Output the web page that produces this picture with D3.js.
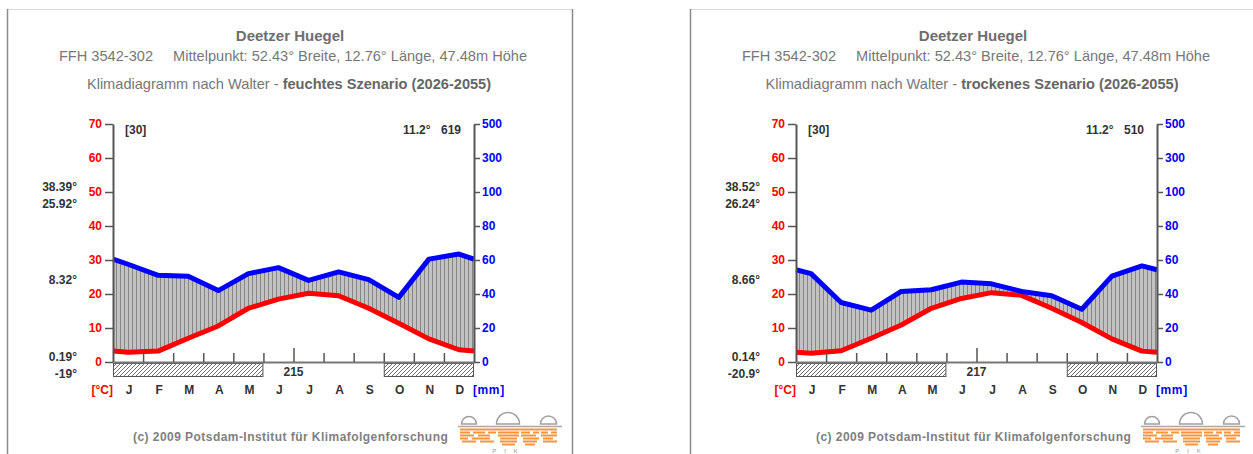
<!DOCTYPE html>
<html>
<head>
<meta charset="utf-8">
<script src="https://cdn.jsdelivr.net/npm/d3@7"></script>
<style>
  body { margin: 0; background: #fff; }
  svg { display: block; font-family: "Liberation Sans", Arial, sans-serif; }
</style>
</head>
<body>
<svg id="chart" width="1253" height="454"></svg>
<script>
// ---- data ----
const months = ["J", "F", "M", "A", "M", "J", "J", "A", "S", "O", "N", "D"];
const tempTicks = [0, 10, 20, 30, 40, 50, 60, 70];
const precTicks = [0, 20, 40, 60, 80, 100, 300, 500];

// feuchtes Szenario (2026-2055)
const tempWet = [2.9, 3.2, 7.0, 10.6, 15.8, 18.5, 20.2, 19.5, 15.8, 11.4, 6.8, 3.6];
const precWet = [57.5, 51.0, 50.5, 42.0, 52.0, 55.5, 48.0, 53.0, 48.5, 38.0, 60.5, 63.5];
const frostWet = [[0, 5], [9, 12]];
const sideWet = ["38.39°", "25.92°", "8.32°", "0.19°", "-19°"];
const statsWet = ["[30]", "11.2°", "619", "215"];

// trockenes Szenario (2026-2055)
const tempDry = [2.6, 3.3, 7.0, 10.9, 15.8, 18.7, 20.4, 19.6, 15.8, 11.6, 6.8, 3.2];
const precDry = [52.0, 35.0, 30.5, 41.5, 42.5, 47.0, 46.0, 41.5, 39.0, 31.0, 50.5, 56.5];
const frostDry = [[0, 5], [9, 12]];
const sideDry = ["38.52°", "26.24°", "8.66°", "0.14°", "-20.9°"];
const statsDry = ["[30]", "11.2°", "510", "217"];

const siteName = "Deetzer Huegel";
const siteInfo = ["FFH 3542-302", "Mittelpunkt: 52.43° Breite, 12.76° Länge, 47.48m Höhe"];
const scenarios = ["feuchtes Szenario (2026-2055)", "trockenes Szenario (2026-2055)"];

const panels = [
  { dx: 0,   scenario: scenarios[0], temp: tempWet, prec: precWet, frost: frostWet, side: sideWet, stats: statsWet },
  { dx: 683, scenario: scenarios[1], temp: tempDry, prec: precDry, frost: frostDry, side: sideDry, stats: statsDry }
];

// ---- drawing ----
const svg = d3.select("#chart");
svg.append("rect").attr("width", 1253).attr("height", 454).attr("fill", "#fff");

const defs = svg.append("defs");
// humid period: grey with vertical rules
const humid = defs.append("pattern").attr("id", "humid")
  .attr("patternUnits", "userSpaceOnUse").attr("width", 4).attr("height", 8);
humid.append("rect").attr("width", 4).attr("height", 8).attr("fill", "#c2c2c2");
humid.append("rect").attr("width", 1).attr("height", 8).attr("fill", "#858585");
// frost months: diagonal hatching
const hatch = defs.append("pattern").attr("id", "frost")
  .attr("patternUnits", "userSpaceOnUse").attr("width", 4).attr("height", 4);
hatch.append("rect").attr("width", 4).attr("height", 4).attr("fill", "#fff");
hatch.append("path").attr("d", "M-1,1 L1,-1 M0,4 L4,0 M3,5 L5,3")
  .attr("stroke", "#6e6e6e").attr("stroke-width", 1);

const x = d3.scaleLinear().domain([0, 12]).range([113, 474]);
const yT = d3.scaleLinear().domain([0, 70]).range([362, 124]);
const yP = d3.scaleLinear().domain([0, 100, 300, 500])
  .range([yT(0), yT(50), yT(60), yT(70)]);

function drawPanel(p) {
  const g = svg.append("g").attr("transform", `translate(${p.dx},0)`);

  // frame
  g.append("line").attr("x1", 7).attr("x2", 573).attr("y1", 9.5).attr("y2", 9.5)
    .attr("stroke", "#d8d8d8");
  [7.5, 572.5].forEach(xx => g.append("line").attr("x1", xx).attr("x2", xx)
    .attr("y1", 9).attr("y2", 454).attr("stroke", "#8a8a8a").attr("stroke-width", 1.5));

  // headings
  g.append("text").attr("x", 290).attr("y", 41).attr("text-anchor", "middle")
    .attr("font-size", 15).attr("font-weight", "bold").attr("fill", "#6e6e6e")
    .text(siteName);
  const l2 = g.append("text").attr("x", 293).attr("y", 61).attr("text-anchor", "middle")
    .attr("font-size", 14.6).attr("fill", "#777");
  l2.append("tspan").text(siteInfo[0]);
  l2.append("tspan").attr("dx", 20).text(siteInfo[1]);
  const l3 = g.append("text").attr("x", 289).attr("y", 89).attr("text-anchor", "middle")
    .attr("font-size", 14.6).attr("fill", "#777");
  l3.append("tspan").text("Klimadiagramm nach Walter - ");
  l3.append("tspan").attr("font-weight", "bold").attr("fill", "#666").text(p.scenario);

  // curve points: mid-month values, edges wrap between December and January
  const edgeT = (p.temp[0] + p.temp[11]) / 2;
  const edgeP = (p.prec[0] + p.prec[11]) / 2;
  const pts = [{ m: 0, t: edgeT, p: edgeP }]
    .concat(months.map((_, i) => ({ m: i + 0.5, t: p.temp[i], p: p.prec[i] })))
    .concat([{ m: 12, t: edgeT, p: edgeP }]);

  g.append("path").datum(pts)
    .attr("d", d3.area().x(d => x(d.m)).y0(d => yT(d.t)).y1(d => yP(d.p)))
    .attr("fill", "url(#humid)");

  g.append("path").datum(pts)
    .attr("d", d3.line().x(d => x(d.m)).y(d => yT(d.t)))
    .attr("fill", "none").attr("stroke", "#ff0000").attr("stroke-width", 5)
    .attr("stroke-linejoin", "round");
  g.append("path").datum(pts)
    .attr("d", d3.line().x(d => x(d.m)).y(d => yP(d.p)))
    .attr("fill", "none").attr("stroke", "#0000ff").attr("stroke-width", 5)
    .attr("stroke-linejoin", "round");

  // frost bars
  g.selectAll("rect.frost").data(p.frost).join("rect").attr("class", "frost")
    .attr("x", d => x(d[0]) + 0.5).attr("y", 363.5)
    .attr("width", d => x(d[1]) - x(d[0]) - 1).attr("height", 13)
    .attr("fill", "url(#frost)").attr("stroke", "#555").attr("stroke-width", 1);

  // axes
  const axL = g.append("g").attr("transform", `translate(${x(0)},0)`)
    .call(d3.axisLeft(yT).tickValues(tempTicks).tickSize(8).tickSizeOuter(0).tickPadding(3));
  axL.selectAll("text").attr("fill", "#ff0000");
  const axR = g.append("g").attr("transform", `translate(${x(12)},0)`)
    .call(d3.axisRight(yP).tickValues(precTicks).tickSize(6).tickSizeOuter(0).tickPadding(2));
  axR.selectAll("text").attr("fill", "#0000ff");
  const axB = g.append("g").attr("transform", `translate(0,${yT(0)})`)
    .call(d3.axisTop(x).tickValues(d3.range(1, 12)).tickSize(9).tickSizeOuter(0).tickFormat(""));
  axB.selectAll(".tick line").filter(d => d === 6).attr("y2", -14);
  [axL, axR, axB].forEach(a => {
    a.attr("font-family", null).attr("font-size", 12).attr("font-weight", "bold");
    a.selectAll(".domain").attr("stroke", "#555").attr("stroke-width", 2);
    a.selectAll(".tick line").attr("stroke", "#555").attr("stroke-width", 1.5);
  });
  axB.selectAll(".domain").attr("stroke", "#777");

  // month labels and units
  g.selectAll("text.month").data(months).join("text").attr("class", "month")
    .attr("x", (d, i) => x(i + 0.5) + 1).attr("y", 394).attr("text-anchor", "middle")
    .attr("font-size", 12).attr("font-weight", "bold").attr("fill", "#333").text(d => d);
  g.append("text").attr("x", 113).attr("y", 394).attr("text-anchor", "end")
    .attr("font-size", 12).attr("font-weight", "bold").attr("fill", "#ff0000").text("[°C]");
  g.append("text").attr("x", 473).attr("y", 394).attr("letter-spacing", 0.6)
    .attr("font-size", 12).attr("font-weight", "bold").attr("fill", "#0000ff").text("[mm]");

  // station statistics
  const stat = (tx, ty, s, anchor) => g.append("text").attr("x", tx).attr("y", ty)
    .attr("text-anchor", anchor).attr("font-size", 12).attr("font-weight", "bold")
    .attr("fill", "#333").text(s);
  stat(125, 134, p.stats[0], "start");
  stat(403, 134, p.stats[1], "start");
  stat(461, 134, p.stats[2], "end");
  stat(x(6), 376, p.stats[3], "middle");
  const sideY = [191, 207.5, 284, 361, 377.5];
  p.side.forEach((s, i) => stat(77, sideY[i], s, "end"));

  // credit line
  g.append("text").attr("x", 133).attr("y", 441).attr("font-size", 12)
    .attr("letter-spacing", 0.45)
    .attr("font-weight", "bold").attr("fill", "#808080")
    .text("(c) 2009 Potsdam-Institut für Klimafolgenforschung");

  // institute logo
  const lg = g.append("g");
  [[469, 7.5], [508, 11.5], [548.5, 8]].forEach(([cx, r]) => {
    lg.append("path").attr("d", `M${cx - r},424 A${r},${r} 0 0 1 ${cx + r},424 Z`)
      .attr("fill", "none").attr("stroke", "#a0a0a0").attr("stroke-width", 1.5);
  });
  lg.append("line").attr("x1", 458).attr("x2", 562).attr("y1", 426.5).attr("y2", 426.5)
    .attr("stroke", "#a8a8a8").attr("stroke-width", 1.5);
  const rows = [
    [[460, 557]],
    [[460, 470], [473, 485], [488, 496], [498, 519], [521, 530], [533, 539], [541, 548], [551, 557]],
    [[460, 474], [478, 490], [498, 519], [521, 536], [541, 557]],
    [[460, 468], [472, 490], [500, 517], [523, 539], [543, 553]],
    [[462, 476], [480, 494], [500, 517], [523, 537], [543, 557]],
    [[502, 515], [525, 535]]
  ];
  rows.forEach((segs, r) => segs.forEach(([a, b]) =>
    lg.append("rect").attr("x", a).attr("y", 428.5 + r * 3).attr("width", b - a)
      .attr("height", 2).attr("fill", "#f7943e")));
  lg.append("text").attr("x", 509).attr("y", 453).attr("text-anchor", "middle")
    .attr("font-size", 6).attr("fill", "#999").attr("letter-spacing", 8).text("PIK");
}

panels.forEach(drawPanel);
</script>
</body>
</html>
